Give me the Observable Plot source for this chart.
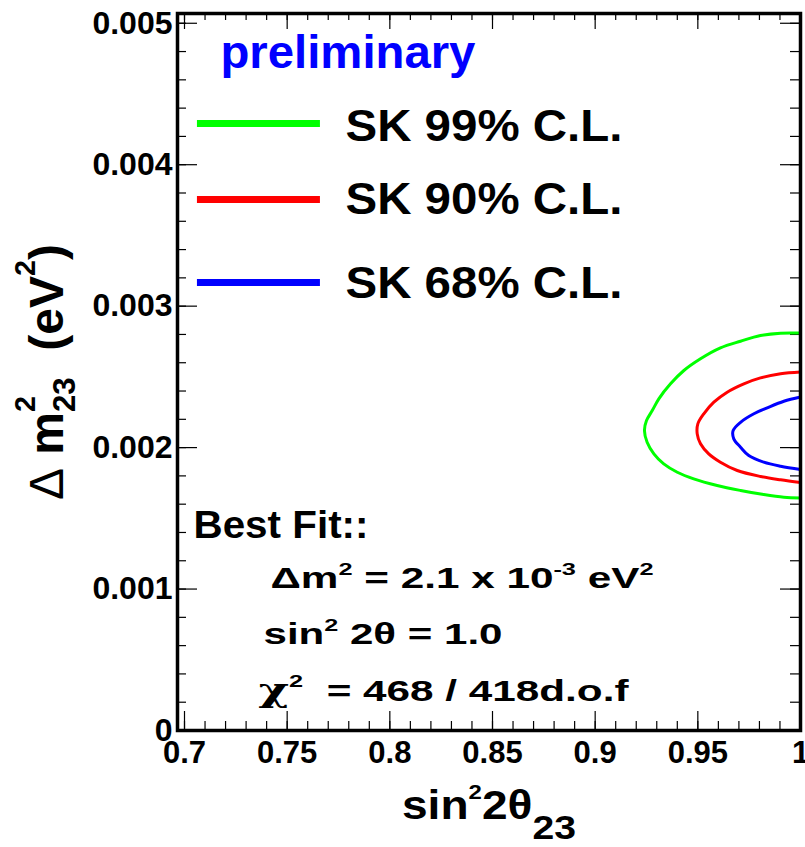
<!DOCTYPE html>
<html>
<head>
<meta charset="utf-8">
<script src="https://cdn.jsdelivr.net/npm/d3@7"></script>
<script src="https://cdn.jsdelivr.net/npm/@observablehq/plot@0.6"></script>
<style>
  html, body { margin: 0; padding: 0; background: #fff; }
  #chart svg text, #chart svg tspan { white-space: pre; }
</style>
</head>
<body>
<div id="chart"></div>
<script>
// ---------------- DATA ----------------
const sin2Ticks = [0.7, 0.75, 0.8, 0.85, 0.9, 0.95, 1.0];
const sin2TickLabels = ["0.7", "0.75", "0.8", "0.85", "0.9", "0.95", "1"];
const dm2Ticks = [0, 0.001, 0.002, 0.003, 0.004, 0.005];
const dm2TickLabels = ["0", "0.001", "0.002", "0.003", "0.004", "0.005"];

const levels = ["99%", "90%", "68%"];
const legendLabels = ["SK 99% C.L.", "SK 90% C.L.", "SK 68% C.L."];

// 99% C.L. contour
const cl99_sin2 = [1.0, 0.9903, 0.9805, 0.9708, 0.9610, 0.9513, 0.9432, 0.9367, 0.9310, 0.9278, 0.9250,
                   0.9240, 0.9253, 0.9286, 0.9334, 0.9400, 0.9480, 0.9594, 0.9708, 0.9821, 0.9919, 1.0];
const cl99_dm2  = [0.002810, 0.002809, 0.002792, 0.002752, 0.002705, 0.002628, 0.002545, 0.002451, 0.002345, 0.002262, 0.002191,
                   0.002121, 0.002038, 0.001956, 0.001885, 0.001826, 0.001779, 0.001732, 0.001697, 0.001668, 0.001649, 0.001644];
// 90% C.L. contour
const cl90_sin2 = [1.0, 0.9903, 0.9805, 0.9724, 0.9643, 0.9578, 0.9529, 0.9500, 0.9497, 0.9513, 0.9553,
                   0.9610, 0.9692, 0.9805, 0.9903, 1.0];
const cl90_dm2  = [0.002534, 0.002522, 0.002493, 0.002451, 0.002392, 0.002321, 0.002239, 0.002168, 0.002097, 0.002027, 0.001956,
                   0.001897, 0.001838, 0.001796, 0.001772, 0.001753];
// 68% C.L. contour
const cl68_sin2 = [1.0, 0.9919, 0.9838, 0.9773, 0.9708, 0.9672, 0.9675, 0.9708, 0.9748, 0.9821, 0.9903, 1.0];
const cl68_dm2  = [0.002358, 0.002328, 0.002281, 0.002239, 0.002179, 0.002121, 0.002062, 0.002003, 0.001944, 0.001897, 0.001868, 0.001845];

const prelimText = "preliminary";
const bestFitLines = ["Best Fit::", "Δm^{2} = 2.1 x 10^{-3} eV^{2}", "sin^{2} 2θ = 1.0", "χ^{2}  = 468 / 418d.o.f"];
const xTitle = "sin^{2}2θ_{23}";
const yTitle = "Δ m^{2}_{23}  (eV^{2})";

// ---------------- BUILD ----------------
const contourSets = [[cl99_sin2, cl99_dm2], [cl90_sin2, cl90_dm2], [cl68_sin2, cl68_dm2]];
const contourRows = contourSets.flatMap(([xs, ys], k) => xs.map((x, i) => ({level: levels[k], sin2: x, dm2: ys[i]})));
const sin2Minor = d3.range(70, 101).map(k => k / 100);
const dm2Minor = d3.range(0, 26).map(k => k * 0.0002);

const WIDTH = 805, HEIGHT = 847;
const mL = 177, mR = 5, mT = 13, mB = 117;
const FW = WIDTH - mL - mR, FH = HEIGHT - mT - mB;
const FONT = "'Liberation Sans', Arial, Helvetica, sans-serif";
const colors = ["#00ff00", "#ff0000", "#0000ff"];

const legendRows = levels.map((l, i) => ({level: l, label: legendLabels[i], lineY: [0.004291, 0.003754, 0.003167][i], textY: [0.004171, 0.003648, 0.003061][i]}));

// text -> fitted width in px, and rich-text settings
const fits = new Map([
  [prelimText, 255],
  [legendLabels[0], 277], [legendLabels[1], 277], [legendLabels[2], 277],
  [bestFitLines[0], 175], [bestFitLines[1], 383], [bestFitLines[2], 239], [bestFitLines[3], 370],
  [xTitle, 174]
]);
const richOpts = new Map([
  [xTitle, {supSize: 0.52, supShift: -0.5, subSize: 0.85, subShift: 0.52}],
  [yTitle, {supSize: 0.6, supShift: -0.58, subSize: 0.65, subShift: 0.26, glyph: {"Δ": {weight: "normal"}}}],
  [bestFitLines[3], {glyph: {"χ": {family: "'DejaVu Serif', 'Liberation Serif', serif", size: 1.1}}}]
]);

const txt = {fontFamily: FONT, fontWeight: "bold", textAnchor: "start", lineAnchor: "bottom", fill: "black"};

const plot = Plot.plot({
  width: WIDTH, height: HEIGHT,
  marginLeft: mL, marginRight: mR, marginTop: mT, marginBottom: mB,
  style: {fontFamily: FONT, fontWeight: "bold", background: "white", color: "black"},
  x: {domain: [0.69659, 1.0]},
  y: {domain: [0, 0.005069]},
  color: {domain: levels, range: colors},
  marks: [
    // inward ticks: bottom/top
    Plot.ruleX(sin2Minor, {x: d => d, insetTop: FH - 9, stroke: "black", strokeWidth: 1.2}),
    Plot.ruleX(sin2Ticks, {x: d => d, insetTop: FH - 19, stroke: "black", strokeWidth: 1.2}),
    Plot.ruleX(sin2Minor, {x: d => d, insetBottom: FH - 7, stroke: "black", strokeWidth: 1.2}),
    Plot.ruleX(sin2Ticks, {x: d => d, insetBottom: FH - 16, stroke: "black", strokeWidth: 1.2}),
    // inward ticks: left/right
    Plot.ruleY(dm2Minor, {y: d => d, insetRight: FW - 9, stroke: "black", strokeWidth: 1.2}),
    Plot.ruleY(dm2Ticks, {y: d => d, insetRight: FW - 20, stroke: "black", strokeWidth: 1.2}),
    Plot.ruleY(dm2Minor, {y: d => d, insetLeft: FW - 10, stroke: "black", strokeWidth: 1.2}),
    Plot.ruleY(dm2Ticks, {y: d => d, insetLeft: FW - 20, stroke: "black", strokeWidth: 1.2}),
    // tick labels
    Plot.axisX({anchor: "bottom", ticks: sin2Ticks, tickFormat: d => sin2TickLabels[sin2Ticks.indexOf(d)],
      tickSize: 0, tickPadding: 10, fontSize: 31, fontWeight: "bold", fontFamily: FONT, label: null}),
    Plot.axisY({anchor: "left", ticks: dm2Ticks, tickFormat: d => dm2TickLabels[dm2Ticks.indexOf(d)],
      tickSize: 0, tickPadding: 5, fontSize: 32, fontWeight: "bold", fontFamily: FONT, label: null}),
    // contours
    Plot.line(contourRows, {x: "sin2", y: "dm2", z: "level", stroke: "level", strokeWidth: 3, curve: "catmull-rom"}),
    // frame
    Plot.frame({stroke: "black", strokeWidth: 3.5}),
    // legend
    Plot.ruleY(legendRows, {y: "lineY", x1: 0.7063, x2: 0.7662, stroke: "level", strokeWidth: 7}),
    Plot.text(legendRows, {...txt, x: () => 0.7784, y: "textY", text: "label", fontSize: 45}),
    // annotations
    Plot.text([prelimText], {...txt, x: () => 0.7175, y: () => 0.004687, text: d => d, fontSize: 46, fill: "#0000ff"}),
    Plot.text([bestFitLines[0]], {...txt, x: () => 0.70438, y: () => 0.001364, text: d => d, fontSize: 38}),
    Plot.text([bestFitLines[1]], {...txt, x: () => 0.74188, y: () => 0.001004, text: d => d, fontSize: 29}),
    Plot.text([bestFitLines[2]], {...txt, x: () => 0.73847, y: () => 0.000608, text: d => d, fontSize: 29}),
    Plot.text([bestFitLines[3]], {...txt, x: () => 0.73603, y: () => 0.000212, text: d => d, fontSize: 29}),
    // axis titles
    Plot.text([xTitle], {...txt, frameAnchor: "bottom", textAnchor: "middle", dy: 88, text: d => d, fontSize: 40}),
    Plot.text([yTitle], {...txt, frameAnchor: "left", textAnchor: "middle", rotate: -90, dx: -115, text: d => d, fontSize: 48})
  ]
});

document.getElementById("chart").appendChild(plot);

// ---------------- rich text (super/subscripts, special glyphs) ----------------
const SVGNS = "http://www.w3.org/2000/svg";
function richify(el, o) {
  const s = el.textContent;
  const fs = parseFloat(getComputedStyle(el).fontSize);
  const opt = Object.assign({supSize: 0.6, supShift: -0.45, subSize: 0.65, subShift: 0.25, glyph: {}}, o || {});
  const glyphKeys = Object.keys(opt.glyph);
  const parts = s.split(/(\^\{[^}]*\}|_\{[^}]*\})/g).filter(p => p !== "");
  el.textContent = "";
  let cur = 0, prev = null;
  for (const p of parts) {
    let target = 0, size = null, content = p, kind = "n";
    if (p.startsWith("^{")) { kind = "sup"; target = opt.supShift * fs; size = opt.supSize * fs; content = p.slice(2, -1); }
    else if (p.startsWith("_{")) { kind = "sub"; target = opt.subShift * fs; size = opt.subSize * fs; content = p.slice(2, -1); }
    // split out special glyphs inside normal runs
    const pieces = (kind === "n" && glyphKeys.length)
      ? content.split(new RegExp("([" + glyphKeys.join("") + "])")).filter(q => q !== "")
      : [content];
    pieces.forEach((piece, j) => {
      const t = document.createElementNS(SVGNS, "tspan");
      if (j === 0) {
        t.setAttribute("dy", (target - cur).toFixed(2));
        cur = target;
        if (kind === "sub" && prev && prev.kind === "sup") {
          t.setAttribute("dx", (-prev.el.getComputedTextLength()).toFixed(2));
        }
      }
      if (size) t.setAttribute("font-size", size.toFixed(2));
      const g = opt.glyph[piece];
      if (g) {
        if (g.family) t.setAttribute("font-family", g.family);
        if (g.weight) t.setAttribute("font-weight", g.weight);
        if (g.size) t.setAttribute("font-size", (g.size * fs).toFixed(2));
      }
      t.textContent = piece;
      el.appendChild(t);
      prev = {kind, el: t};
    });
  }
}
d3.select(plot).selectAll("text").each(function () {
  const raw = this.textContent;
  if (/[\^_]\{/.test(raw) || richOpts.has(raw)) richify(this, richOpts.get(raw));
  if (fits.has(raw)) {
    this.setAttribute("textLength", fits.get(raw));
    this.setAttribute("lengthAdjust", "spacingAndGlyphs");
  }
});
</script>
</body>
</html>
